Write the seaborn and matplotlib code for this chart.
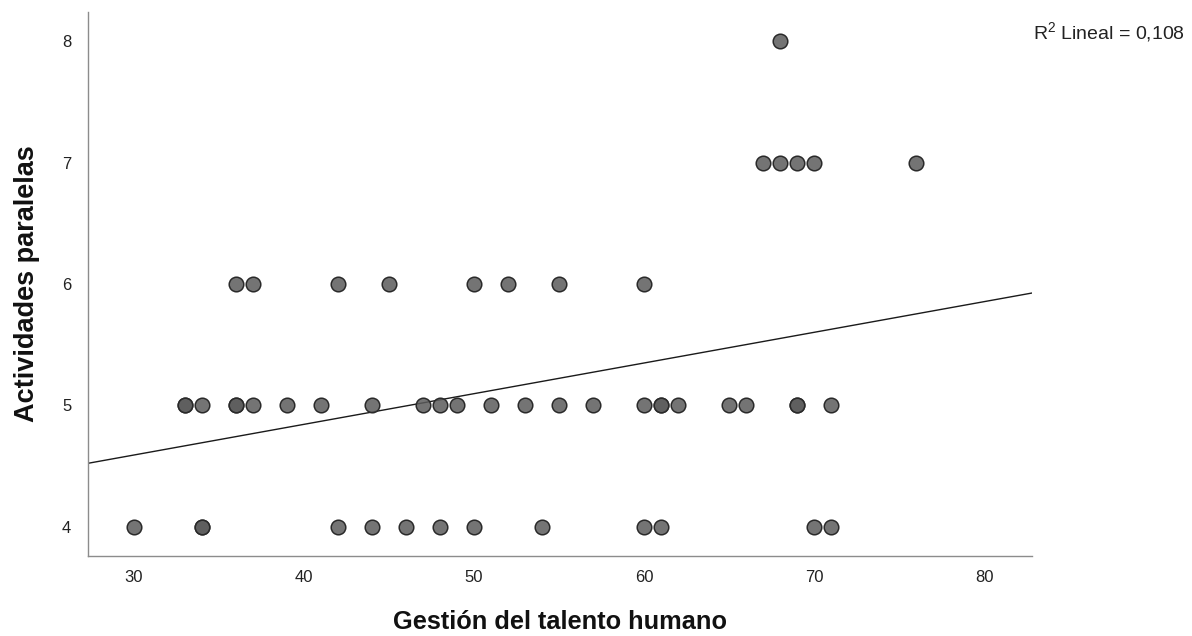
import numpy as np
import pandas as pd
import matplotlib
matplotlib.use("Agg")
import matplotlib.pyplot as plt
import seaborn as sns

# points, grouped by y value (duplicates = darker dots)
x_y4 = [30, 34, 34, 42, 44, 46, 48, 50, 54, 60, 61, 70, 71]
x_y5 = [33, 33, 34, 36, 36, 37, 39, 41, 44, 47, 48, 49, 51, 53, 55, 57,
        60, 61, 61, 62, 65, 66, 69, 69, 71]
x_y6 = [36, 37, 42, 45, 50, 52, 55, 60]
x_y7 = [67, 68, 69, 70, 76]
x_y8 = [68]

x_ticks = [30, 40, 50, 60, 70, 80]
y_ticks = [4, 5, 6, 7, 8]
r2_label = "R$^{2}$ Lineal = 0,108"

df = pd.DataFrame({
    "gestion": x_y4 + x_y5 + x_y6 + x_y7 + x_y8,
    "actividades": [4] * len(x_y4) + [5] * len(x_y5) + [6] * len(x_y6)
                   + [7] * len(x_y7) + [8] * len(x_y8),
})

sns.set_style("white")
plt.rcParams["font.family"] = ["Liberation Sans", "DejaVu Sans"]
plt.rcParams["mathtext.fontset"] = "custom"
plt.rcParams["mathtext.rm"] = "Liberation Sans"
plt.rcParams["mathtext.it"] = "Liberation Sans"
plt.rcParams["mathtext.bf"] = "Liberation Sans:bold"

fig = plt.figure(figsize=(11.92, 6.36), dpi=100)
ax = fig.add_axes([0.0738, 0.1258, 0.792, 0.855])

sns.scatterplot(data=df, x="gestion", y="actividades", ax=ax,
                s=110, color=(0.36, 0.36, 0.36, 0.85),
                edgecolor="#2a2a2a", linewidth=1.1, zorder=3)

ax.set_xlim(27.3, 82.8)
ax.set_ylim(3.76, 8.24)

# fit line across the whole axis
sns.regplot(data=df, x="gestion", y="actividades", ax=ax, scatter=False,
            ci=None, truncate=False, color="#1a1a1a",
            line_kws={"linewidth": 1.0, "zorder": 2})

ax.set_xticks(x_ticks)
ax.set_yticks(y_ticks)
ax.tick_params(length=0, labelsize=12, colors="#222222")
ax.tick_params(axis="x", pad=10)
ax.tick_params(axis="y", pad=12)

for side in ["top", "right"]:
    ax.spines[side].set_visible(False)
for side in ["left", "bottom"]:
    ax.spines[side].set_color("#8c8c8c")
    ax.spines[side].set_linewidth(1.0)

ax.set_xlabel("Gestión del talento humano", fontsize=18.3, fontweight="bold",
              labelpad=18, color="#111111")
ax.set_ylabel("Actividades paralelas", fontsize=19.5, fontweight="bold",
              labelpad=16, color="#111111")

fig.text(0.8666, 0.950, r2_label, fontsize=14, color="#222222", ha="left", va="center")

fig.savefig("out.png", dpi=100)
